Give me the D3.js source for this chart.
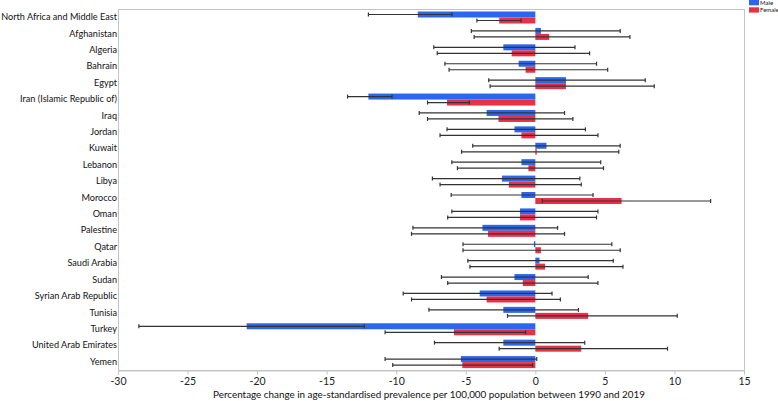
<!DOCTYPE html>
<html><head><meta charset="utf-8">
<script src="https://cdn.jsdelivr.net/npm/d3@7"></script>
<style>body{margin:0;background:#fff}svg{display:block;font-family:Lato,"Open Sans",sans-serif}</style>
</head><body><svg id="c" width="778" height="401"></svg>
<script>
const categories = ["North Africa and Middle East","Afghanistan","Algeria","Bahrain","Egypt","Iran (Islamic Republic of)","Iraq","Jordan","Kuwait","Lebanon","Libya","Morocco","Oman","Palestine","Qatar","Saudi Arabia","Sudan","Syrian Arab Republic","Tunisia","Turkey","United Arab Emirates","Yemen"];
const maleValues   = [-8.45, 0.4, -2.3, -1.2, 2.2, -12.0, -3.5, -1.5, 0.8, -1.0, -2.4, -1.0, -1.1, -3.8, -0.1, 0.3, -1.5, -4.0, -2.3, -20.75, -2.3, -5.35];
const maleLower    = [-12.0, -4.6, -7.3, -6.5, -3.35, -13.5, -8.35, -6.35, -4.5, -6.0, -7.4, -6.05, -6.0, -8.8, -5.2, -4.85, -6.75, -9.5, -7.65, -28.5, -7.25, -10.8];
const maleUpper    = [-6.0, 6.1, 2.85, 4.4, 7.9, -10.3, 2.1, 3.6, 6.1, 4.7, 3.2, 4.15, 4.5, 1.6, 5.5, 5.6, 3.8, 1.2, 3.1, -12.3, 3.55, 0.1];
const femaleValues = [-2.6, 1.0, -1.7, -0.7, 2.2, -6.35, -2.65, -1.0, 0.1, -0.5, -1.9, 6.2, -1.1, -3.4, 0.4, 0.7, -0.9, -3.5, 3.8, -5.85, 3.3, -5.25];
const femaleLower  = [-4.2, -4.4, -7.05, -6.2, -3.25, -7.75, -7.75, -6.85, -5.3, -5.6, -6.85, 0.5, -6.3, -8.9, -5.2, -4.7, -6.3, -8.9, -2.0, -10.8, -2.6, -10.25];
const femaleUpper  = [-1.03, 6.8, 3.9, 5.2, 8.55, -4.75, 2.7, 4.5, 6.0, 4.9, 3.3, 12.6, 4.4, 2.1, 6.1, 6.3, 4.5, 1.8, 10.2, -0.7, 9.5, -0.2];
const xTicks = [-30, -25, -20, -15, -10, -5, 0, 5, 10, 15];
const seriesNames = ["Male", "Female"];
const seriesColors = ["#2b66f0", "#ea3047"];
const axisTitle = "Percentage change in age-standardised prevalence per 100,000 population between 1990 and 2019";

const svg = d3.select("#c");
const L = 118, R = 744, T = 9, B = 370;
const x = d3.scaleLinear().domain([-30, 15]).range([L, R]);
const y = d3.scaleBand().domain(categories).range([T, B]).padding(0);
const bh = 6;
const frame = "#c4c4c4";

// frame
svg.append("rect").attr("x", L + 0.5).attr("y", T + 0.5).attr("width", R - L).attr("height", B - T)
  .attr("fill", "none").attr("stroke", frame).attr("stroke-width", 1);

// x axis
const xa = svg.append("g").attr("transform", `translate(0,${B + 0.5})`)
  .call(d3.axisBottom(x).tickValues(xTicks).tickSize(4).tickFormat(d => String(d)));
xa.select(".domain").attr("stroke", frame);
xa.selectAll(".tick line").attr("stroke", frame);
xa.selectAll(".tick text").attr("font-size", 10.5).attr("fill", "#222").attr("font-family", "Lato, sans-serif");

// y labels
const ya = svg.append("g").attr("transform", `translate(${L},0)`)
  .call(d3.axisLeft(y).tickSize(0).tickPadding(1));
ya.select(".domain").remove();
const yt = ya.selectAll(".tick text").attr("font-size", 11).attr("fill", "#111").attr("font-family", "Lato, sans-serif");
let maxW = 0; yt.each(function(){ maxW = Math.max(maxW, this.getComputedTextLength()); });
const yfs = Math.min(11, 11 * 116 / maxW);
yt.attr("font-size", yfs);

const rows = categories.map((c, i) => ({c, m: maleValues[i], ml: maleLower[i], mu: maleUpper[i], f: femaleValues[i], fl: femaleLower[i], fu: femaleUpper[i]}));
const mid = d => y(d.c) + y.bandwidth() / 2 + 0.3;

// bars
svg.append("g").selectAll("rect").data(rows).join("rect")
  .attr("x", d => x(Math.min(0, d.m))).attr("width", d => Math.abs(x(d.m) - x(0)))
  .attr("y", d => mid(d) - bh).attr("height", bh).attr("fill", seriesColors[0]);
svg.append("g").selectAll("rect").data(rows).join("rect")
  .attr("x", d => x(Math.min(0, d.f))).attr("width", d => Math.abs(x(d.f) - x(0)))
  .attr("y", d => mid(d)).attr("height", bh).attr("fill", seriesColors[1]);

// error bars
function err(lo, hi, dy) {
  const g = svg.append("g").attr("stroke", "#333").attr("stroke-width", 1.2);
  rows.forEach(d => {
    const yy = mid(d) + dy;
    g.append("line").attr("x1", x(d[lo])).attr("x2", x(d[hi])).attr("y1", yy).attr("y2", yy);
    [d[lo], d[hi]].forEach(v => g.append("line").attr("x1", x(v)).attr("x2", x(v)).attr("y1", yy - 2).attr("y2", yy + 2));
  });
}
err("ml", "mu", -bh / 2);
err("fl", "fu", bh / 2);

// axis title
const tt = svg.append("text").attr("x", (L + R) / 2 - 2).attr("y", 398).attr("text-anchor", "middle")
  .attr("font-size", 10.5).attr("fill", "#111").text(axisTitle);
const tw = tt.node().getComputedTextLength();
tt.attr("font-size", 10.5 * 432 / tw);

// legend
const lg = svg.append("g").attr("transform", "translate(749,0)");
seriesNames.forEach((s, i) => {
  lg.append("rect").attr("x", 0).attr("y", i * 7.3).attr("width", 10).attr("height", 5.3).attr("fill", seriesColors[i]);
  lg.append("text").attr("x", 11).attr("y", i * 7.3 + 5).attr("font-size", 6).attr("fill", "#111").text(s);
});
</script></body></html>
